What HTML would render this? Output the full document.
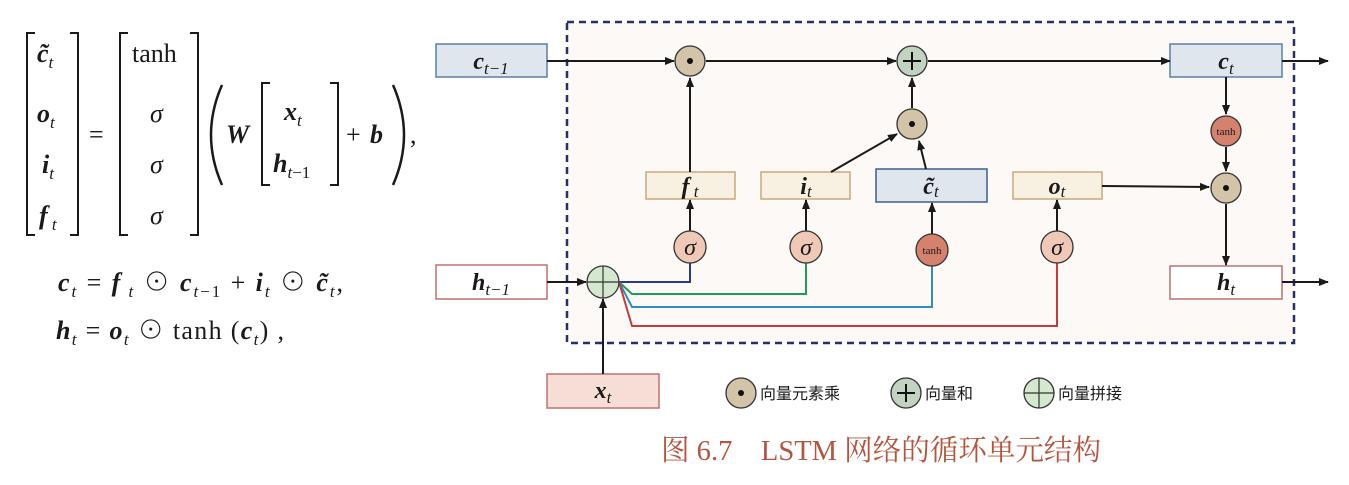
<!DOCTYPE html>
<html><head><meta charset="utf-8"><style>
html,body{margin:0;padding:0;background:#fff;}
svg{display:block;}
text{font-family:"Liberation Serif","Noto Serif CJK SC",serif;fill:#1a1a1a;}
.b{font-weight:bold;font-style:italic;}
.s{font-style:italic;}
</style></head><body>
<svg width="1349" height="485" viewBox="0 0 1349 485" xmlns="http://www.w3.org/2000/svg">
<defs>
<marker id="a" viewBox="0 0 10 10" refX="9" refY="5" markerWidth="10" markerHeight="10" markerUnits="userSpaceOnUse" orient="auto"><path d="M0,1 L10,5 L0,9 z" fill="#1a1a1a"/></marker>
</defs>
<g stroke="#1a1a1a" stroke-width="2" fill="none">
<path d="M35,33 H27 V235 H35"/><path d="M70,33 H78 V235 H70"/>
<path d="M128,33 H120 V235 H128"/><path d="M190,33 H198 V235 H190"/>
<path d="M270,83 H262 V185 H270"/><path d="M330,83 H338 V185 H330"/>
<path d="M222,85 Q200,135 222,185" stroke-width="2.5"/><path d="M393,85 Q415,135 393,185" stroke-width="2.5"/>
</g>
<g font-size="26">
<text x="37" y="62" class="b">c̃<tspan font-size="17" dy="6" font-weight="normal">t</tspan></text>
<text x="37" y="122" class="b">o<tspan font-size="17" dy="6" font-weight="normal">t</tspan></text>
<text x="42" y="173" class="b">i<tspan font-size="17" dy="6" font-weight="normal">t</tspan></text>
<text x="39" y="224" class="b">f<tspan font-size="17" dy="6" font-weight="normal"> t</tspan></text>
<text x="89" y="143">=</text>
<text x="132" y="62">tanh</text>
<text x="150" y="122" class="s">σ</text>
<text x="150" y="173" class="s">σ</text>
<text x="150" y="224" class="s">σ</text>
<text x="226" y="143" class="b">W</text>
<text x="284" y="120" class="b">x<tspan font-size="17" dy="6" font-weight="normal">t</tspan></text>
<text x="273" y="172" class="b">h<tspan font-size="17" dy="6" font-weight="normal" font-style="italic">t</tspan><tspan font-size="17" font-weight="normal" font-style="normal">−1</tspan></text>
<text x="346" y="143">+</text><text x="370" y="143" class="b">b</text>
<text x="410" y="143">,</text>
<text x="58" y="291" textLength="285" lengthAdjust="spacing"><tspan class="b">c</tspan><tspan font-size="17" dy="6" class="s">t</tspan><tspan dy="-6"> = </tspan><tspan class="b">f</tspan><tspan font-size="17" dy="6" class="s"> t</tspan><tspan dy="-6"> ⊙ </tspan><tspan class="b">c</tspan><tspan font-size="17" dy="6"><tspan class="s">t</tspan>−1</tspan><tspan dy="-6"> + </tspan><tspan class="b">i</tspan><tspan font-size="17" dy="6" class="s">t</tspan><tspan dy="-6"> ⊙ </tspan><tspan class="b">c̃</tspan><tspan font-size="17" dy="6" class="s">t</tspan><tspan dy="-6">,</tspan></text>
<text x="56" y="339" textLength="228" lengthAdjust="spacing"><tspan class="b">h</tspan><tspan font-size="17" dy="6" class="s">t</tspan><tspan dy="-6"> = </tspan><tspan class="b">o</tspan><tspan font-size="17" dy="6" class="s">t</tspan><tspan dy="-6"> ⊙ tanh (</tspan><tspan class="b">c</tspan><tspan font-size="17" dy="6" class="s">t</tspan><tspan dy="-6">) ,</tspan></text>
</g>

<rect x="567" y="22" width="727" height="321" fill="#fdf9f6" stroke="#27306e" stroke-width="2.5" stroke-dasharray="7,5"/>

<g stroke-width="1.5">
<rect x="436" y="44" width="111" height="33" fill="#dfe6ee" stroke="#5b7fa8"/>
<rect x="1170" y="44" width="112" height="33" fill="#dfe6ee" stroke="#5b7fa8"/>
<rect x="436" y="265" width="111" height="34" fill="#fff" stroke="#c07070"/>
<rect x="1170" y="266" width="112" height="33" fill="#fff" stroke="#c07070"/>
<rect x="547" y="374" width="112" height="34" fill="#f6ddd6" stroke="#c07070"/>
<rect x="646" y="172" width="89" height="27" fill="#f8f1e2" stroke="#c9a87a"/>
<rect x="761" y="172" width="89" height="27" fill="#f8f1e2" stroke="#c9a87a"/>
<rect x="1013" y="172" width="89" height="27" fill="#f8f1e2" stroke="#c9a87a"/>
<rect x="876" y="169" width="111" height="33" fill="#dfe6ee" stroke="#3d5f8c"/>
</g>

<g stroke="#1a1a1a" stroke-width="2" fill="none" marker-end="url(#a)">
<line x1="547" y1="61" x2="674" y2="61"/>
<line x1="706" y1="61" x2="896" y2="61"/>
<line x1="928" y1="61" x2="1170" y2="61"/>
<line x1="1282" y1="61" x2="1328" y2="61"/>
<line x1="690" y1="172" x2="690" y2="78"/>
<line x1="912" y1="108" x2="912" y2="78"/>
<line x1="831" y1="172" x2="897" y2="134"/>
<line x1="926" y1="169" x2="919" y2="141"/>
<line x1="690" y1="231" x2="690" y2="200"/>
<line x1="806" y1="231" x2="806" y2="200"/>
<line x1="932" y1="234" x2="932" y2="203"/>
<line x1="1057" y1="231" x2="1057" y2="200"/>
<line x1="1226" y1="77" x2="1226" y2="114"/>
<line x1="1226" y1="147" x2="1226" y2="171"/>
<line x1="1102" y1="186" x2="1209" y2="187"/>
<line x1="1226" y1="204" x2="1226" y2="265"/>
<line x1="1282" y1="282" x2="1328" y2="282"/>
<line x1="547" y1="282" x2="586" y2="282"/>
<line x1="603" y1="374" x2="603" y2="299"/>
</g>

<g fill="none" stroke-width="2">
<path d="M619,282 H690 V263" stroke="#2a3a8a"/>
<path d="M619,282 L632,294 H806 V263" stroke="#1f9a5a"/>
<path d="M619,282 L632,307 H932 V266" stroke="#2a8fc0"/>
<path d="M619,282 L632,326 H1057 V263" stroke="#c83a3a"/>
</g>

<g stroke="#333" stroke-width="1.3">
<circle cx="690" cy="61" r="15" fill="#d3c3a9"/>
<circle cx="912" cy="61" r="15" fill="#c3d3c2"/>
<circle cx="912" cy="124" r="15" fill="#d3c3a9"/>
<circle cx="1226" cy="188" r="15" fill="#d3c3a9"/>
<circle cx="1226" cy="131" r="15" fill="#d4826d"/>
<circle cx="932" cy="250" r="16" fill="#d4826d"/>
<circle cx="690" cy="247" r="16" fill="#efc8b8"/>
<circle cx="806" cy="247" r="16" fill="#efc8b8"/>
<circle cx="1057" cy="247" r="16" fill="#efc8b8"/>
<circle cx="603" cy="282" r="16" fill="#d4e8d0"/>
<circle cx="741" cy="393" r="15" fill="#d3c3a9"/>
<circle cx="906" cy="393" r="15" fill="#c3d3c2"/>
<circle cx="1039" cy="393" r="15" fill="#d4e8d0"/>
</g>
<g fill="#111">
<circle cx="690" cy="61" r="3"/><circle cx="912" cy="124" r="3"/><circle cx="1226" cy="188" r="3"/><circle cx="741" cy="393" r="3"/>
</g>
<g stroke="#111" stroke-width="2">
<path d="M903,61 H921 M912,52 V70"/>
<path d="M897,393 H915 M906,384 V402"/>
</g>
<g stroke="#333" stroke-width="1.2">
<path d="M587,282 H619 M603,266 V298"/>
<path d="M1024,393 H1054 M1039,378 V408"/>
</g>

<g font-size="24" text-anchor="middle">
<text x="491" y="69" class="b">c<tspan font-size="17" dy="5" font-weight="normal">t−1</tspan></text>
<text x="1226" y="69" class="b">c<tspan font-size="17" dy="5" font-weight="normal">t</tspan></text>
<text x="491" y="290" class="b">h<tspan font-size="17" dy="5" font-weight="normal">t−1</tspan></text>
<text x="1226" y="290" class="b">h<tspan font-size="17" dy="5" font-weight="normal">t</tspan></text>
<text x="603" y="398" class="b">x<tspan font-size="17" dy="5" font-weight="normal">t</tspan></text>
<text x="690" y="194" class="b">f<tspan font-size="17" dy="3" font-weight="normal"> t</tspan></text>
<text x="806" y="194" class="b">i<tspan font-size="17" dy="3" font-weight="normal">t</tspan></text>
<text x="931" y="194" class="b">c̃<tspan font-size="17" dy="3" font-weight="normal">t</tspan></text>
<text x="1057" y="194" class="b">o<tspan font-size="17" dy="3" font-weight="normal">t</tspan></text>
<text x="690" y="255" class="s" font-size="24">σ</text>
<text x="806" y="255" class="s" font-size="24">σ</text>
<text x="1057" y="255" class="s" font-size="24">σ</text>
<text x="932" y="254" font-size="11">tanh</text>
<text x="1226" y="135" font-size="11">tanh</text>
</g>
<g font-size="16">
<text x="760" y="399" style="font-family:'Noto Sans CJK SC',sans-serif">向量元素乘</text>
<text x="925" y="399" style="font-family:'Noto Sans CJK SC',sans-serif">向量和</text>
<text x="1058" y="399" style="font-family:'Noto Sans CJK SC',sans-serif">向量拼接</text>
</g>
<text x="661" y="460" font-size="29" textLength="440" lengthAdjust="spacingAndGlyphs" style="fill:#b5553f;font-family:'Liberation Serif','Noto Serif CJK SC',serif">图 6.7　LSTM 网络的循环单元结构</text>
</svg>
</body></html>
